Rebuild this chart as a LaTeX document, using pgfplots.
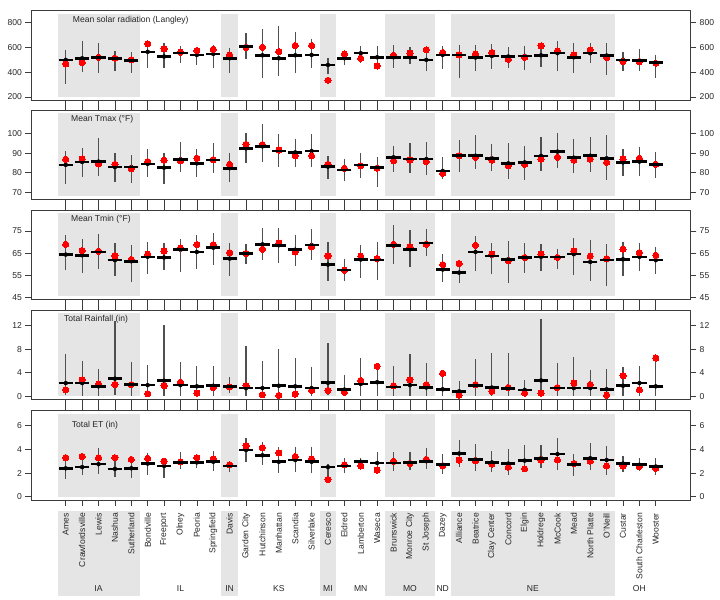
\documentclass[border=0pt]{standalone}
\usepackage{fontspec}
\setmainfont{Liberation Sans}
\usepackage{pgfplots}
\usepackage{pgfplotstable}
\pgfplotsset{compat=1.18}

\definecolor{band}{RGB}{229,229,229}
\definecolor{rng}{RGB}{80,80,80}
\definecolor{frame}{RGB}{60,60,60}
\definecolor{dotred}{RGB}{255,0,0}
\newcommand\tickfont{\fontsize{8.6}{10}\selectfont}
\tikzset{ttl/.style={anchor=west, inner sep=0pt, font=\tickfont, text=black!85}}

% x med min max dot
\pgfplotstableread{
x med min max dot
0 500 303 581 467
1 513 405 656 478
2 521 397 635 521
3 511 413 575 513
4 494 397 562 500
5 565 438 621 629
6 527 438 635 589
7 554 473 613 562
8 540 457 581 575
9 548 438 621 586
10 513 397 594 540
11 610 505 716 600
12 537 351 748 602
13 513 370 775 567
14 537 397 721 616
15 540 432 667 616
16 459 386 513 335
17 513 459 559 548
18 554 473 608 513
19 521 419 608 451
20 521 432 621 537
21 521 467 600 554
22 500 411 608 581
23 540 424 608 559
24 540 356 621 540
25 519 411 621 548
26 532 424 627 559
27 527 432 600 505
28 532 419 613 521
29 537 446 640 613
30 554 413 654 573
31 521 392 635 540
32 554 473 635 581
33 535 378 640 519
34 500 413 567 486
35 494 413 589 486
36 478 356 540 473
}\solar

\pgfplotstableread{
x med min max dot
0 84.0 74.3 91.3 86.9
1 85.5 78.0 92.8 87.0
2 85.7 78.3 97.9 84.5
3 82.9 75.1 89.9 84.3
4 82.9 74.6 89.1 82.1
5 84.5 78.0 92.1 85.7
6 82.6 74.1 90.3 86.4
7 86.9 80.2 95.9 86.2
8 84.8 78.0 92.0 87.4
9 86.5 79.7 95.0 86.7
10 82.3 75.5 90.1 84.3
11 92.5 85.2 100.5 94.5
12 93.5 85.3 104.9 94.4
13 91.1 83.1 99.8 91.6
14 90.4 83.1 97.3 88.7
15 91.1 83.1 99.8 88.7
16 83.1 76.8 88.7 84.3
17 81.4 75.8 87.0 82.3
18 84.0 77.5 89.9 83.5
19 82.8 72.9 88.2 82.3
20 87.9 80.6 93.9 86.2
21 87.0 79.7 95.0 86.5
22 87.0 78.9 95.9 85.7
23 80.9 76.8 88.2 79.7
24 88.7 80.6 96.7 88.7
25 88.7 81.8 99.3 87.9
26 87.4 81.1 94.5 86.5
27 84.8 76.8 95.0 83.5
28 85.3 76.3 93.9 84.3
29 88.6 80.9 98.4 87.0
30 90.8 82.3 100.5 87.9
31 87.7 79.7 97.1 86.5
32 88.7 80.6 98.4 87.0
33 87.4 76.3 99.3 85.3
34 85.3 78.3 92.1 87.0
35 85.7 78.3 93.0 87.4
36 84.3 77.5 90.8 84.3
}\tmax

\pgfplotstableread{
x med min max dot
0 64.4 57.7 73.1 69.0
1 64.1 56.2 71.3 66.2
2 65.6 57.8 73.8 65.9
3 61.9 54.7 69.6 63.8
4 61.4 51.9 68.6 62.2
5 63.4 55.9 70.1 64.6
6 63.1 57.4 69.8 66.0
7 66.6 56.6 71.6 67.4
8 65.6 58.1 73.4 68.9
9 67.5 59.6 74.1 68.9
10 62.6 54.9 69.8 65.3
11 64.9 60.1 69.0 64.9
12 69.0 61.9 76.5 66.8
13 68.6 60.4 76.3 69.6
14 66.6 59.2 73.1 65.6
15 68.7 61.9 76.0 67.8
16 59.9 52.6 70.1 63.8
17 57.4 52.5 62.6 57.4
18 62.2 54.1 68.6 63.7
19 61.9 53.2 70.1 62.6
20 68.6 60.1 77.5 69.0
21 66.8 58.9 75.3 67.8
22 69.6 63.7 76.0 69.0
23 57.7 52.2 64.6 59.9
24 56.3 51.7 61.1 60.4
25 65.6 57.1 72.6 68.6
26 63.8 55.9 69.8 64.6
27 62.3 51.7 70.4 61.6
28 63.1 56.2 69.6 63.1
29 63.4 56.9 69.0 64.6
30 63.4 58.1 67.1 63.1
31 64.6 55.1 71.9 66.0
32 61.1 52.5 71.1 63.7
33 61.9 50.4 69.0 62.6
34 62.3 54.7 70.1 66.8
35 63.4 56.9 69.8 65.3
36 61.9 55.9 67.8 64.1
}\tmin

\pgfplotstableread{
x med min max dot
0 2.25 0.3 7.2 1.1
1 2.25 0 6.0 2.8
2 1.7 0 4.6 2.1
3 3.0 0.2 12.8 2.0
4 2.0 0 5.8 2.0
5 1.9 0 5.4 0.45
6 2.65 0 12.1 1.8
7 1.9 0 5.8 2.4
8 1.7 0 5.1 0.55
9 1.8 0 5.2 1.5
10 1.7 0.55 3.3 1.6
11 1.4 0 8.6 1.8
12 1.4 0 6.0 0.3
13 1.8 0 8.05 0.17
14 1.7 0 6.5 0.4
15 1.4 0 5.0 1.0
16 2.3 0.3 9.0 1.0
17 1.15 0 3.7 0.7
18 2.1 0 6.5 2.7
19 2.4 0 5.2 5.1
20 1.6 0 5.2 1.8
21 1.9 0 7.2 2.8
22 1.5 0 5.6 2.0
23 1.2 0 3.9 3.9
24 0.85 0 2.6 0.2
25 1.8 0 6.3 2.0
26 1.5 0 7.4 0.85
27 1.3 0 7.4 1.5
28 1.1 0 2.8 0.55
29 2.7 0 13.1 0.55
30 1.4 0 5.6 1.5
31 1.4 0 6.6 2.25
32 1.4 0 4.4 2.0
33 1.2 0 4.6 0.2
34 1.8 0 4.9 3.5
35 2.25 0 5.1 1.1
36 1.7 0 6.5 6.5
}\rain

\pgfplotstableread{
x med min max dot
0 2.4 1.5 3.4 3.3
1 2.5 1.8 3.7 3.4
2 2.75 1.9 4.1 3.3
3 2.35 1.7 3.3 3.3
4 2.4 1.55 3.4 3.15
5 2.8 1.8 3.7 3.25
6 2.6 1.6 3.0 3.0
7 2.9 2.35 3.75 2.95
8 2.9 2.4 3.5 3.3
9 2.95 2.15 3.85 3.2
10 2.6 2.1 2.9 2.7
11 3.95 2.95 5.0 4.3
12 3.5 2.7 4.65 4.15
13 2.95 2.0 4.2 3.7
14 3.1 2.1 4.2 3.4
15 2.95 2.0 4.2 3.2
16 2.5 1.5 2.8 1.45
17 2.6 2.0 3.3 2.7
18 2.95 2.55 3.25 2.6
19 2.85 2.15 3.8 2.25
20 2.85 2.15 3.8 3.0
21 2.9 2.25 3.8 2.8
22 3.0 2.35 4.1 3.15
23 2.7 1.9 3.6 2.6
24 3.65 2.55 4.8 3.1
25 3.15 2.15 4.45 3.05
26 2.9 2.05 3.9 2.75
27 2.8 1.8 4.0 2.5
28 3.05 2.05 4.35 2.35
29 3.25 2.4 4.4 3.1
30 3.6 2.25 4.95 3.1
31 2.7 1.75 3.65 2.8
32 3.25 2.25 4.5 3.0
33 3.1 1.8 4.3 2.6
34 2.8 2.1 3.45 2.6
35 2.7 2.15 3.3 2.55
36 2.55 1.8 3.3 2.4
}\et

\pgfplotsset{
  base/.style={scale only axis, width=659.7bp, height=89.3bp,
    xmin=-2.12, xmax=38.13, anchor=north west},
  panel/.style={base,
    xtick={0,...,36}, xticklabels={},
    tick align=outside, major tick length=5.5bp,
    ytick pos=left, yticklabel pos=left,
    axis line style={frame, line width=0.7bp},
    every tick/.style={frame, line width=0.7bp},
    ticklabel style={font=\tickfont, text=black!85},
    /pgf/number format/assume math mode=true},
  rpanel/.style={base, hide x axis, axis y line*=right,
    tick align=outside, major tick length=5.5bp,
    yticklabel pos=right,
    axis line style={frame, line width=0.7bp},
    every tick/.style={frame, line width=0.7bp},
    ticklabel style={font=\tickfont, text=black!85},
    /pgf/number format/assume math mode=true},
  ranges/.style={only marks, mark=none, forget plot,
    error bars/.cd, y dir=both, y explicit, error mark=none,
    error bar style={draw=rng, line width=1.2bp}},
  dots/.style={dotred, only marks, mark=*, mark size=3.1bp, forget plot,
    mark options={draw=dotred, fill=dotred, line width=0pt}},
  meds/.style={black, only marks, mark=-, mark size=7.1bp, forget plot,
    mark options={draw=black, line width=2.6bp}},
}

\newcommand\bands{%
  \fill[band] ({axis cs:-0.5,0}|-{rel axis cs:0,0.037}) rectangle ({axis cs:4.5,0}|-{rel axis cs:0,0.963});
  \fill[band] ({axis cs:9.5,0}|-{rel axis cs:0,0.037}) rectangle ({axis cs:10.5,0}|-{rel axis cs:0,0.963});
  \fill[band] ({axis cs:15.5,0}|-{rel axis cs:0,0.037}) rectangle ({axis cs:16.5,0}|-{rel axis cs:0,0.963});
  \fill[band] ({axis cs:19.5,0}|-{rel axis cs:0,0.037}) rectangle ({axis cs:22.5,0}|-{rel axis cs:0,0.963});
  \fill[band] ({axis cs:23.5,0}|-{rel axis cs:0,0.037}) rectangle ({axis cs:33.5,0}|-{rel axis cs:0,0.963});
}
\newcommand\series[1]{%
  \addplot[ranges] table[x=x, y=med,
     y error plus expr=\thisrow{max}-\thisrow{med},
     y error minus expr=\thisrow{med}-\thisrow{min}] {#1};
  \addplot[dots] table[x=x, y=dot] {#1};
  \addplot[meds] table[x=x, y=med] {#1};
}

\begin{document}
\begin{tikzpicture}
\path[use as bounding box] (0,0) rectangle (720bp,-600bp);

% Panel 1
\begin{axis}[panel, at={(31bp,-10.7bp)}, ymin=176, ymax=897, ytick={200,400,600,800}, xtick pos=left]
\bands
\node[ttl] at (rel axis cs:0.0632,0.896) {Mean solar radiation (Langley)};
\series{\solar}
\end{axis}
\begin{axis}[rpanel, at={(31bp,-10.7bp)}, ymin=176, ymax=897, ytick={200,400,600,800}]
\end{axis}

% Panel 2
\begin{axis}[panel, at={(31bp,-110bp)}, ymin=66.4, ymax=112.1, ytick={70,80,90,100}, xtick pos=both]
\bands
\node[ttl] at (rel axis cs:0.0606,0.896) {Mean Tmax (°F)};
\series{\tmax}
\end{axis}
\begin{axis}[rpanel, at={(31bp,-110bp)}, ymin=66.4, ymax=112.1, ytick={70,80,90,100}]
\end{axis}

% Panel 3
\begin{axis}[panel, at={(31bp,-210bp)}, ymin=44.3, ymax=84.45, ytick={45,55,65,75}, xtick pos=both]
\bands
\node[ttl] at (rel axis cs:0.0606,0.896) {Mean Tmin (°F)};
\series{\tmin}
\end{axis}
\begin{axis}[rpanel, at={(31bp,-210bp)}, ymin=44.3, ymax=84.45, ytick={45,55,65,75}]
\end{axis}

% Panel 4
\begin{axis}[panel, at={(31bp,-310bp)}, ymin=-0.5, ymax=14.65, ytick={0,4,8,12}, xtick pos=both]
\bands
\node[ttl] at (rel axis cs:0.050,0.896) {Total Rainfall (in)};
\series{\rain}
\end{axis}
\begin{axis}[rpanel, at={(31bp,-310bp)}, ymin=-0.5, ymax=14.65, ytick={0,4,8,12}]
\end{axis}

% Panel 5
\begin{axis}[panel, at={(31bp,-410.7bp)}, ymin=-0.28, ymax=7.27, ytick={0,2,4,6}, xtick pos=both]
\bands
\node[ttl] at (rel axis cs:0.0617,0.832) {Total ET (in)};
\series{\et}
\end{axis}
\begin{axis}[rpanel, at={(31bp,-410.7bp)}, ymin=-0.28, ymax=7.27, ytick={0,2,4,6}]
\end{axis}

% Label strip
\begin{axis}[base, at={(31bp,-511bp)}, height=85bp, ymin=0, ymax=85, y dir=reverse, hide axis, clip=false]
\fill[band] (axis cs:-0.5,0) rectangle (axis cs:4.5,85);
\fill[band] (axis cs:9.5,0) rectangle (axis cs:10.5,85);
\fill[band] (axis cs:15.5,0) rectangle (axis cs:16.5,85);
\fill[band] (axis cs:19.5,0) rectangle (axis cs:22.5,85);
\fill[band] (axis cs:23.5,0) rectangle (axis cs:33.5,85);
\begin{scope}[every node/.style={rotate=90, anchor=east, inner sep=0pt, font=\tickfont, text=black!85}]
\node at (axis cs:0,2) {Ames};
\node at (axis cs:1,2) {Crawfordsville};
\node at (axis cs:2,2) {Lewis};
\node at (axis cs:3,2) {Nashua};
\node at (axis cs:4,2) {Sutherland};
\node at (axis cs:5,2) {Bondville};
\node at (axis cs:6,2) {Freeport};
\node at (axis cs:7,2) {Olney};
\node at (axis cs:8,2) {Peoria};
\node at (axis cs:9,2) {Springfield};
\node at (axis cs:10,2) {Davis};
\node at (axis cs:11,2) {Garden City};
\node at (axis cs:12,2) {Hutchinson};
\node at (axis cs:13,2) {Manhattan};
\node at (axis cs:14,2) {Scandia};
\node at (axis cs:15,2) {Silverlake};
\node at (axis cs:16,2) {Ceresco};
\node at (axis cs:17,2) {Eldred};
\node at (axis cs:18,2) {Lamberton};
\node at (axis cs:19,2) {Waseca};
\node at (axis cs:20,2) {Brunswick};
\node at (axis cs:21,2) {Monroe City};
\node at (axis cs:22,2) {St Joseph};
\node at (axis cs:23,2) {Dazey};
\node at (axis cs:24,2) {Alliance};
\node at (axis cs:25,2) {Beatrice};
\node at (axis cs:26,2) {Clay Center};
\node at (axis cs:27,2) {Concord};
\node at (axis cs:28,2) {Elgin};
\node at (axis cs:29,2) {Holdrege};
\node at (axis cs:30,2) {McCook};
\node at (axis cs:31,2) {Mead};
\node at (axis cs:32,2) {North Platte};
\node at (axis cs:33,2) {O'Neill};
\node at (axis cs:34,2) {Custar};
\node at (axis cs:35,2) {South Charleston};
\node at (axis cs:36,2) {Wooster};
\end{scope}
\begin{scope}[every node/.style={anchor=center, font=\tickfont, text=black!85}]
\node at (axis cs:2,78) {IA};
\node at (axis cs:7,78) {IL};
\node at (axis cs:10,78) {IN};
\node at (axis cs:13,78) {KS};
\node at (axis cs:16,78) {MI};
\node at (axis cs:18,78) {MN};
\node at (axis cs:21,78) {MO};
\node at (axis cs:23,78) {ND};
\node at (axis cs:28.5,78) {NE};
\node at (axis cs:35,78) {OH};
\end{scope}
\end{axis}
\end{tikzpicture}
\end{document}
